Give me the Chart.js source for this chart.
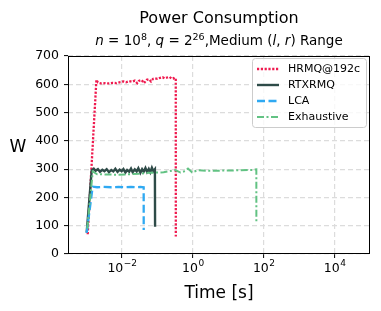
<!DOCTYPE html>
<html lang="en">
<head>
    <meta charset="UTF-8">
    <title>Power Consumption</title>
    <script src="https://cdn.jsdelivr.net/npm/chart.js"></script>
    <style>
        body {
            margin: 0;
            background-color: #ffffff;
        }
        #chart-container {
            width: 381px;
            height: 311px;
        }
    </style>
</head>
<body>
    <div id="chart-container">
        <canvas id="chart"></canvas>
    </div>

    <script>
        // series: time in seconds, power in watts
        const hrmqTime = [0.00108, 0.0019, 0.0021, 0.0026, 0.0033, 0.0042, 0.0055, 0.007, 0.009, 0.011, 0.013, 0.016, 0.019, 0.023, 0.027, 0.03, 0.036, 0.042, 0.05, 0.058, 0.066, 0.075, 0.085, 0.1, 0.12, 0.14, 0.16, 0.19, 0.22, 0.25, 0.28, 0.31, 0.33, 0.331];
        const hrmqWatts = [70, 616, 606, 603, 604, 603, 605, 604, 608, 610, 607, 611, 609, 613, 604, 612, 615, 604, 616, 618, 610, 619, 621, 619, 623, 625, 621, 624, 626, 620, 622, 618, 620, 62];

        const rtxTime = [0.00101, 0.0014, 0.0016, 0.0018, 0.0021, 0.0024, 0.0028, 0.0032, 0.0037, 0.0043, 0.005, 0.0057, 0.0065, 0.0075, 0.0086, 0.0098, 0.011, 0.0125, 0.014, 0.016, 0.018, 0.02, 0.023, 0.026, 0.029, 0.033, 0.037, 0.041, 0.046, 0.051, 0.057, 0.063, 0.07, 0.077, 0.085, 0.086];
        const rtxWatts = [76, 296, 302, 294, 300, 291, 298, 293, 300, 289, 297, 292, 301, 290, 298, 293, 300, 288, 297, 291, 302, 289, 299, 292, 303, 287, 300, 291, 304, 290, 301, 289, 305, 293, 300, 96];

        const lcaTime = [0.00101, 0.00149, 0.002, 0.003, 0.005, 0.008, 0.012, 0.018, 0.025, 0.033, 0.041, 0.0411];
        const lcaWatts = [75, 238, 236, 237, 236, 237, 236, 237, 236, 237, 236, 85];

        const exhTime = [0.00105, 0.0015, 0.002, 0.004, 0.008, 0.015, 0.03, 0.06, 0.15, 0.32, 0.45, 0.6, 0.73, 0.95, 1.4, 3, 8, 20, 45, 62, 62.1];
        const exhWatts = [90, 292, 282, 281, 280, 282, 284, 287, 289, 297, 288, 293, 302, 289, 296, 294, 295, 296, 297, 299, 112];

        const seriesNames = ['HRMQ@192c', 'RTXRMQ', 'LCA', 'Exhaustive'];
        const xTickValues = [1e-2, 1, 1e2, 1e4];
        const xTickExponents = ['\u22122', '0', '2', '4'];

        const colors = ['#ef1a4f', '#2e4b48', '#2fa9f2', '#62c283'];
        const dashes = [[2.2, 1.6], [], [8, 3.5], [7, 2.5, 2, 2.5]];
        const widths = [2.3, 2.4, 2.3, 2];

        function toPoints(ts, ws) {
            return ts.map((t, i) => ({ x: t, y: ws[i] }));
        }

        const frameAndText = {
            id: 'frameAndText',
            afterDatasetsDraw(chart) {
                const { ctx, chartArea: a } = chart;
                ctx.save();
                ctx.strokeStyle = '#000';
                ctx.lineWidth = 1;
                ctx.strokeRect(a.left + 0.5, a.top + 0.5, a.right - a.left - 1, a.bottom - a.top - 1);

                // x tick labels as 10 with raised exponent
                const xs = chart.scales.x;
                ctx.fillStyle = '#000';
                ctx.textBaseline = 'alphabetic';
                xTickValues.forEach((v, i) => {
                    const px = xs.getPixelForValue(v);
                    ctx.font = '12.5px "DejaVu Sans"';
                    const wb = ctx.measureText('10').width;
                    ctx.font = '9px "DejaVu Sans"';
                    const we = ctx.measureText(xTickExponents[i]).width;
                    const x0 = px - (wb + we) / 2;
                    ctx.textAlign = 'left';
                    ctx.font = '12.5px "DejaVu Sans"';
                    ctx.fillText('10', x0, a.bottom + 18);
                    ctx.font = '9px "DejaVu Sans"';
                    ctx.fillText(xTickExponents[i], x0 + wb + 0.5, a.bottom + 12);
                });

                // legend
                const lx = 252, ly = 58.5, lw = 114, lh = 69;
                ctx.fillStyle = 'rgba(255,255,255,0.8)';
                ctx.strokeStyle = '#cccccc';
                ctx.lineWidth = 1;
                ctx.beginPath();
                ctx.roundRect(lx + 0.5, ly, lw, lh, 3);
                ctx.fill();
                ctx.stroke();
                ctx.font = '11px "DejaVu Sans"';
                ctx.textBaseline = 'middle';
                ctx.textAlign = 'left';
                seriesNames.forEach((name, i) => {
                    const y = 69 + i * 16;
                    ctx.strokeStyle = colors[i];
                    ctx.lineWidth = widths[i];
                    ctx.setLineDash(dashes[i]);
                    ctx.beginPath();
                    ctx.moveTo(257, y);
                    ctx.lineTo(279, y);
                    ctx.stroke();
                    ctx.setLineDash([]);
                    ctx.fillStyle = '#000';
                    ctx.fillText(name, 288, y + 0.5);
                });

                // titles
                const cx = (a.left + a.right) / 2;
                ctx.fillStyle = '#000';
                ctx.textAlign = 'center';
                ctx.textBaseline = 'alphabetic';
                ctx.font = '16px "DejaVu Sans"';
                ctx.fillText('Power Consumption', cx, 23);
                ctx.font = '17px "DejaVu Sans"';
                ctx.fillText('Time [s]', cx, 298);
                ctx.fillText('W', 18, 152);

                // subtitle with math parts
                const reg = '13.5px "DejaVu Sans"', ita = 'italic 13.5px "DejaVu Sans"', sup = '9.5px "DejaVu Sans"';
                const parts = [
                    [ita, 'n', 0], [reg, ' = 10', 0], [sup, '8', 5.5], [reg, ', ', 0],
                    [ita, 'q', 0], [reg, ' = 2', 0], [sup, '26', 5.5],
                    [reg, ',Medium (', 0], [ita, 'l', 0], [reg, ', ', 0], [ita, 'r', 0], [reg, ') Range', 0]
                ];
                let total = 0;
                parts.forEach(p => { ctx.font = p[0]; total += ctx.measureText(p[1]).width; });
                let x = cx - total / 2;
                ctx.textAlign = 'left';
                parts.forEach(p => {
                    ctx.font = p[0];
                    ctx.fillText(p[1], x, 45 - p[2]);
                    x += ctx.measureText(p[1]).width;
                });
                ctx.restore();
            }
        };

        const datasets = [
            [hrmqTime, hrmqWatts], [rtxTime, rtxWatts], [lcaTime, lcaWatts], [exhTime, exhWatts]
        ].map((s, i) => ({
            label: seriesNames[i],
            data: toPoints(s[0], s[1]),
            borderColor: colors[i],
            borderWidth: widths[i],
            borderDash: dashes[i],
            pointRadius: 0,
            fill: false,
            tension: 0,
            order: 4 - i
        }));

        const ctx = document.getElementById('chart').getContext('2d');
        new Chart(ctx, {
            type: 'line',
            data: { datasets: datasets },
            options: {
                responsive: true,
                maintainAspectRatio: false,
                animation: false,
                layout: { padding: { top: 56, right: 11, left: 0, bottom: 0 } },
                plugins: {
                    legend: { display: false },
                    title: { display: false },
                    tooltip: { enabled: false }
                },
                scales: {
                    x: {
                        type: 'logarithmic',
                        min: Math.pow(10, -3.5),
                        max: 1e5,
                        afterBuildTicks: scale => {
                            scale.ticks = xTickValues.map(v => ({ value: v }));
                        },
                        afterFit: scale => { scale.height = 57; },
                        ticks: {
                            autoSkip: false,
                            maxRotation: 0,
                            callback: () => ''
                        },
                        grid: {
                            color: '#dcdcdc',
                            lineWidth: 1.2,
                            tickLength: 4,
                            tickColor: '#000',
                            tickWidth: 1
                        },
                        border: { display: false, dash: [5, 3] }
                    },
                    y: {
                        min: 0,
                        max: 700,
                        afterFit: scale => { scale.width = 68; },
                        ticks: {
                            stepSize: 100,
                            padding: 5,
                            color: '#000',
                            font: { family: 'DejaVu Sans', size: 12.5 }
                        },
                        grid: {
                            color: '#dcdcdc',
                            lineWidth: 1.2,
                            tickLength: 4,
                            tickColor: '#000',
                            tickWidth: 1
                        },
                        border: { display: false, dash: [5, 3] }
                    }
                }
            },
            plugins: [frameAndText]
        });
    </script>
</body>
</html>
